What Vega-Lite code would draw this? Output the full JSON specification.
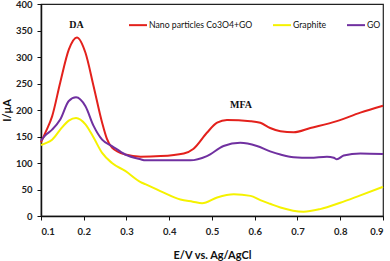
{
  "$schema": "https://vega.github.io/schema/vega-lite/v6.json",
  "autosize": "none",
  "width": 342,
  "height": 212,
  "padding": {"left": 41, "top": 4, "right": 7, "bottom": 45},
  "background": "white",
  "config": {
    "view": {"stroke": "#222", "strokeWidth": 1.2},
    "font": "Lato"
  },
  "datasets": {
    "curves": [
      {"s": "Nano particles Co3O4+GO", "x": 0.1, "y": 139},
      {"s": "Nano particles Co3O4+GO", "x": 0.11, "y": 157},
      {"s": "Nano particles Co3O4+GO", "x": 0.126, "y": 188},
      {"s": "Nano particles Co3O4+GO", "x": 0.145, "y": 252},
      {"s": "Nano particles Co3O4+GO", "x": 0.165, "y": 314},
      {"s": "Nano particles Co3O4+GO", "x": 0.184, "y": 337},
      {"s": "Nano particles Co3O4+GO", "x": 0.204, "y": 308},
      {"s": "Nano particles Co3O4+GO", "x": 0.223, "y": 245},
      {"s": "Nano particles Co3O4+GO", "x": 0.243, "y": 176},
      {"s": "Nano particles Co3O4+GO", "x": 0.254, "y": 146},
      {"s": "Nano particles Co3O4+GO", "x": 0.266, "y": 129},
      {"s": "Nano particles Co3O4+GO", "x": 0.297, "y": 116},
      {"s": "Nano particles Co3O4+GO", "x": 0.333, "y": 112},
      {"s": "Nano particles Co3O4+GO", "x": 0.38, "y": 113},
      {"s": "Nano particles Co3O4+GO", "x": 0.434, "y": 118},
      {"s": "Nano particles Co3O4+GO", "x": 0.457, "y": 127},
      {"s": "Nano particles Co3O4+GO", "x": 0.488, "y": 157},
      {"s": "Nano particles Co3O4+GO", "x": 0.512, "y": 176},
      {"s": "Nano particles Co3O4+GO", "x": 0.535, "y": 181},
      {"s": "Nano particles Co3O4+GO", "x": 0.59, "y": 179},
      {"s": "Nano particles Co3O4+GO", "x": 0.613, "y": 176},
      {"s": "Nano particles Co3O4+GO", "x": 0.636, "y": 166},
      {"s": "Nano particles Co3O4+GO", "x": 0.66, "y": 160},
      {"s": "Nano particles Co3O4+GO", "x": 0.691, "y": 158},
      {"s": "Nano particles Co3O4+GO", "x": 0.73, "y": 166},
      {"s": "Nano particles Co3O4+GO", "x": 0.792, "y": 179},
      {"s": "Nano particles Co3O4+GO", "x": 0.847, "y": 195},
      {"s": "Nano particles Co3O4+GO", "x": 0.9, "y": 208},
      {"s": "GO", "x": 0.1, "y": 142},
      {"s": "GO", "x": 0.11, "y": 152},
      {"s": "GO", "x": 0.126, "y": 163},
      {"s": "GO", "x": 0.145, "y": 182},
      {"s": "GO", "x": 0.165, "y": 217},
      {"s": "GO", "x": 0.182, "y": 224},
      {"s": "GO", "x": 0.204, "y": 207},
      {"s": "GO", "x": 0.223, "y": 170},
      {"s": "GO", "x": 0.243, "y": 144},
      {"s": "GO", "x": 0.266, "y": 132},
      {"s": "GO", "x": 0.297, "y": 116},
      {"s": "GO", "x": 0.333, "y": 107},
      {"s": "GO", "x": 0.344, "y": 105},
      {"s": "GO", "x": 0.449, "y": 105},
      {"s": "GO", "x": 0.488, "y": 113},
      {"s": "GO", "x": 0.527, "y": 132},
      {"s": "GO", "x": 0.566, "y": 138},
      {"s": "GO", "x": 0.605, "y": 132},
      {"s": "GO", "x": 0.636, "y": 122},
      {"s": "GO", "x": 0.66, "y": 116},
      {"s": "GO", "x": 0.691, "y": 111},
      {"s": "GO", "x": 0.73, "y": 110},
      {"s": "GO", "x": 0.769, "y": 112},
      {"s": "GO", "x": 0.785, "y": 110},
      {"s": "GO", "x": 0.792, "y": 107},
      {"s": "GO", "x": 0.808, "y": 114},
      {"s": "GO", "x": 0.847, "y": 118},
      {"s": "GO", "x": 0.9, "y": 117},
      {"s": "Graphite", "x": 0.1, "y": 134},
      {"s": "Graphite", "x": 0.11, "y": 137},
      {"s": "Graphite", "x": 0.126, "y": 144},
      {"s": "Graphite", "x": 0.145, "y": 163},
      {"s": "Graphite", "x": 0.165, "y": 180},
      {"s": "Graphite", "x": 0.182, "y": 185},
      {"s": "Graphite", "x": 0.204, "y": 173},
      {"s": "Graphite", "x": 0.223, "y": 148},
      {"s": "Graphite", "x": 0.243, "y": 119},
      {"s": "Graphite", "x": 0.266, "y": 100},
      {"s": "Graphite", "x": 0.297, "y": 85},
      {"s": "Graphite", "x": 0.333, "y": 64},
      {"s": "Graphite", "x": 0.344, "y": 60},
      {"s": "Graphite", "x": 0.379, "y": 47},
      {"s": "Graphite", "x": 0.426, "y": 31},
      {"s": "Graphite", "x": 0.455, "y": 27},
      {"s": "Graphite", "x": 0.477, "y": 24},
      {"s": "Graphite", "x": 0.512, "y": 35},
      {"s": "Graphite", "x": 0.551, "y": 41},
      {"s": "Graphite", "x": 0.59, "y": 38},
      {"s": "Graphite", "x": 0.613, "y": 30},
      {"s": "Graphite", "x": 0.636, "y": 23},
      {"s": "Graphite", "x": 0.66, "y": 16},
      {"s": "Graphite", "x": 0.714, "y": 8},
      {"s": "Graphite", "x": 0.753, "y": 13},
      {"s": "Graphite", "x": 0.8, "y": 25},
      {"s": "Graphite", "x": 0.847, "y": 39},
      {"s": "Graphite", "x": 0.9, "y": 55}
    ],
    "labels": [
      {"t": "DA", "x": 0.183, "y": 361},
      {"t": "MFA", "x": 0.568, "y": 210}
    ]
  },
  "encoding": {
    "x": {
      "field": "x", "type": "quantitative",
      "scale": {"domain": [0.1, 0.9], "nice": false, "zero": false},
      "axis": {
        "values": [0.1, 0.2, 0.3, 0.4, 0.5, 0.6, 0.7, 0.8, 0.9],
        "format": ".1f", "grid": false, "labelOverlap": false,
        "title": "E/V vs. Ag/AgCl",
        "titleFont": "Lato", "titleFontSize": 11, "titleFontWeight": "bold", "titleColor": "#111",
        "titlePadding": 14,
        "labelFont": "Lato", "labelFontSize": 9.5, "labelFontWeight": "bold", "labelColor": "#222",
        "labelPadding": 6,
        "domainColor": "#111", "domainWidth": 1.5,
        "tickColor": "#111", "tickSize": 4
      }
    },
    "y": {
      "field": "y", "type": "quantitative",
      "scale": {"domain": [0, 400], "nice": false},
      "axis": {
        "values": [0, 50, 100, 150, 200, 250, 300, 350, 400],
        "grid": false, "labelOverlap": false,
        "title": "I/μA",
        "titleFont": "Lato", "titleFontSize": 11, "titleFontWeight": "bold", "titleColor": "#111",
        "titlePadding": 3,
        "labelFont": "Lato", "labelFontSize": 9.5, "labelFontWeight": "bold", "labelColor": "#222",
        "labelPadding": 5,
        "domainColor": "#111", "domainWidth": 1.5,
        "tickColor": "#111", "tickSize": 4
      }
    }
  },
  "layer": [
    {
      "data": {"name": "curves"},
      "mark": {"type": "line", "interpolate": "monotone", "strokeWidth": 2},
      "encoding": {
        "color": {
          "field": "s", "type": "nominal",
          "scale": {
            "domain": ["Nano particles Co3O4+GO", "Graphite", "GO"],
            "range": ["#e3211c", "#f5f200", "#7030a0"]
          },
          "legend": {
            "title": null,
            "orient": "none",
            "legendX": 87,
            "legendY": 11,
            "direction": "horizontal",
            "columns": 3,
            "columnPadding": 16,
            "symbolType": "stroke",
            "symbolSize": 324,
            "symbolStrokeWidth": 2,
            "labelFont": "Lato",
            "labelFontSize": 8.7,
            "labelColor": "#111",
            "labelOffset": 1
          }
        }
      }
    },
    {
      "data": {"name": "labels"},
      "mark": {"type": "text", "font": "Liberation Serif", "fontWeight": "bold", "fontSize": 10, "color": "#111"},
      "encoding": {
        "text": {"field": "t"}
      }
    }
  ]
}
